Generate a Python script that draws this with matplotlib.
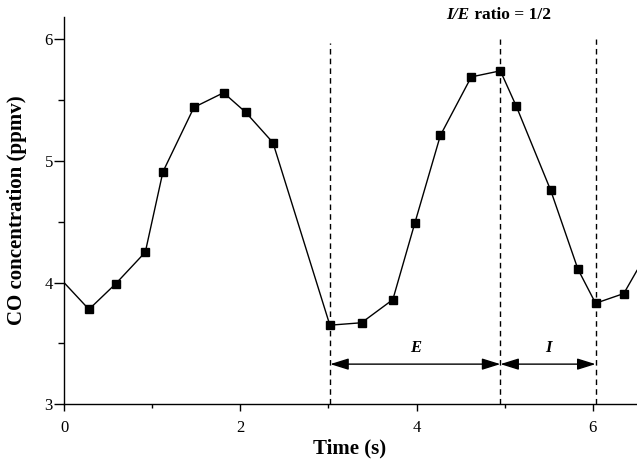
import matplotlib
matplotlib.use('Agg')
import matplotlib.pyplot as plt
from matplotlib.ticker import MultipleLocator

plt.rcParams['font.family'] = ['Liberation Serif', 'DejaVu Serif']

# data
time_s = [0, 0.283, 0.586, 0.922, 1.122, 1.474, 1.81, 2.06, 2.37, 3.016, 3.375,
          3.73, 3.98, 4.27, 4.62, 4.95, 5.13, 5.52, 5.83, 6.03, 6.35, 6.5]
co_ppmv = [4.0, 3.78, 3.99, 4.25, 4.91, 5.44, 5.56, 5.40, 5.15, 3.65, 3.67,
           3.86, 4.49, 5.21, 5.69, 5.74, 5.45, 4.76, 4.11, 3.83, 3.91, 4.10]

# breath phase boundaries (dashed lines) and their top ends
phase_x = [3.02, 4.95, 6.03]
phase_top = [5.97, 6.0, 6.0]
phase_labels = ['E', 'I']
arrow_y = 3.33
label_y = 3.46

fig = plt.figure(figsize=(6.37, 4.63), dpi=100)
ax = fig.add_axes([0.1005, 0.1268, 0.8995, 0.8372])

ax.plot(time_s, co_ppmv, color='black', lw=1.0, marker='s', ms=6,
        markevery=list(range(1, len(time_s) - 1)), zorder=3)

ax.vlines(phase_x, 3, phase_top, colors='black', linestyles=(0, (4, 3)), lw=1.0)

for i, lab in enumerate(phase_labels):
    x0, x1 = phase_x[i], phase_x[i + 1]
    ax.annotate('', xy=(x0, arrow_y), xytext=(x1, arrow_y),
                arrowprops=dict(arrowstyle='<|-|>,head_length=0.8,head_width=0.25',
                                color='black', lw=1.0, shrinkA=0, shrinkB=0,
                                mutation_scale=14))
    ax.text((x0 + x1) / 2, label_y, lab, ha='center', va='center',
            fontsize=12, fontweight='bold', fontstyle='italic')

# title-like note
t1 = ax.text(4.60, 6.166, 'I/E', ha='right', va='baseline', fontsize=12.5,
             fontweight='bold', fontstyle='italic', clip_on=False)
ax.annotate(' ratio = 1/2', xy=(1, 0), xycoords=t1, ha='left', va='bottom',
            fontsize=12.5, fontweight='bold', annotation_clip=False)

ax.set_xlim(0, 6.5)
ax.set_ylim(3, 6.185)
ax.xaxis.set_major_locator(MultipleLocator(2))
ax.xaxis.set_minor_locator(MultipleLocator(1))
ax.yaxis.set_major_locator(MultipleLocator(1))
ax.yaxis.set_minor_locator(MultipleLocator(0.5))

ax.spines['top'].set_visible(False)
ax.spines['right'].set_visible(False)
for s in ['left', 'bottom']:
    ax.spines[s].set_linewidth(1.0)

ax.tick_params(axis='x', which='major', direction='out', length=5, width=1, pad=6, labelsize=12)
ax.tick_params(axis='x', which='minor', direction='out', length=3, width=1)
ax.tick_params(axis='y', which='major', direction='out', length=7, width=1, pad=1, labelsize=12)
ax.tick_params(axis='y', which='minor', direction='out', length=4, width=1)

ax.set_xlabel('Time (s)', fontsize=15, fontweight='bold')
ax.set_ylabel('CO concentration (ppmv)', fontsize=15, fontweight='bold')
ax.xaxis.set_label_coords(0.498, -0.088)
ax.yaxis.set_label_coords(-0.065, 0.5)

plt.savefig('out.png', dpi=100)
